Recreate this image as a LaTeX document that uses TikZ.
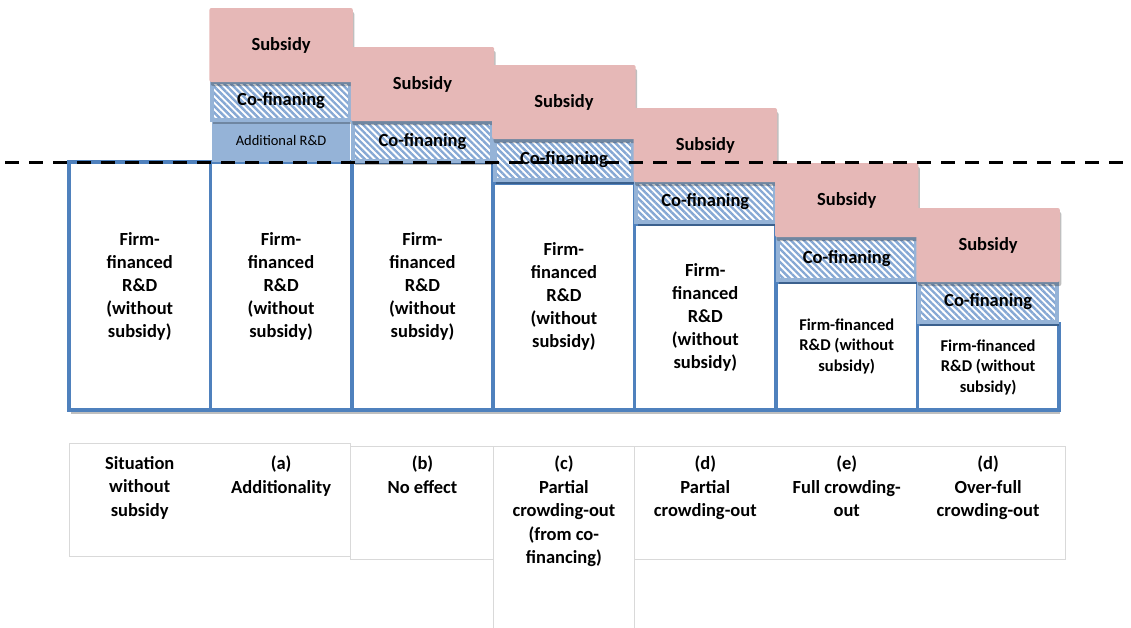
\documentclass[tikz,border=0pt]{standalone}
\usepackage{fontspec}
\setmainfont{Carlito}
\usetikzlibrary{shadows,patterns.meta}

\definecolor{subsidypink}{HTML}{E6B8B7}
\definecolor{lightblue}{HTML}{95B3D7}
\definecolor{hatchblue}{HTML}{86A8D4}
\definecolor{firmblue}{HTML}{4F81BD}
\definecolor{labelgray}{HTML}{D9D9D9}

\begin{document}
\begin{tikzpicture}[x=1pt,y=-1pt]

\def\colw{141.4}
\def\xleft{69}

\useasboundingbox (0,0) rectangle (1131,627);

\tikzstyle{shade}=[drop shadow={shadow xshift=1.5pt,shadow yshift=-4pt,opacity=0.25,fill=black}]
\tikzstyle{firm}=[rectangle,shade,draw=firmblue,line width=3.5pt,fill=white,minimum width=\colw,inner sep=0pt,align=center,font={\fontsize{18.5}{23}\selectfont\bfseries}]
\tikzstyle{smallfirm}=[firm,font={\fontsize{16.5}{20.5}\selectfont\bfseries}]
\tikzstyle{subsidy}=[rectangle,shade,rounded corners=2pt,fill=subsidypink,minimum width=\colw+2,minimum height=74,inner sep=0pt,font={\fontsize{18.5}{23}\selectfont\bfseries}]
\tikzstyle{cofin}=[rectangle,shade,preaction={fill=white},pattern={Lines[angle=-45,distance=4.6pt,line width=2.4pt]},pattern color=hatchblue,draw=lightblue,line width=4pt,minimum width=\colw-3,inner sep=0pt,font={\fontsize{18.5}{23}\selectfont\bfseries}]
\tikzstyle{additional}=[rectangle,fill=lightblue,minimum width=\colw-3,inner sep=0pt,font={\fontsize{14.5}{17}\selectfont}]
\tikzstyle{labelbox}=[rectangle,draw=labelgray,line width=1pt,inner sep=0pt]
\tikzstyle{labeltext}=[anchor=north,inner sep=0pt,align=center,font={\fontsize{18.5}{23.5}\selectfont\bfseries}]

%firm-financed R&D
\node[firm,minimum height=248] (firm0) at (\xleft+0.5*\colw,286) {Firm-\\financed\\R\&D\\(without\\subsidy)};
\node[firm,minimum height=248] (firm1) at (\xleft+1.5*\colw,286) {Firm-\\financed\\R\&D\\(without\\subsidy)};
\node[firm,minimum height=248] (firm2) at (\xleft+2.5*\colw,286) {Firm-\\financed\\R\&D\\(without\\subsidy)};
\node[firm,minimum height=227] (firm3) at (\xleft+3.5*\colw,296.5) {Firm-\\financed\\R\&D\\(without\\subsidy)};
\node[firm,minimum height=186] (firm4) at (\xleft+4.5*\colw,317) {Firm-\\financed\\R\&D\\(without\\subsidy)};
\node[smallfirm,minimum height=128] (firm5) at (\xleft+5.5*\colw,346) {Firm-financed\\R\&D (without\\subsidy)};
\node[smallfirm,minimum height=86] (firm6) at (\xleft+6.5*\colw,367) {Firm-financed\\R\&D (without\\subsidy)};

%additional
\node[additional,minimum height=42] (add1) at (\xleft+1.5*\colw,141) {Additional R\&D};

%co-financing
\node[cofin,minimum height=38] (cofin1) at (\xleft+1.5*\colw,101) {Co-finaning};
\node[cofin,minimum height=39] (cofin2) at (\xleft+2.5*\colw,141.5) {Co-finaning};
\node[cofin,minimum height=40] (cofin3) at (\xleft+3.5*\colw,160) {Co-finaning};
\node[cofin,minimum height=40] (cofin4) at (\xleft+4.5*\colw,202) {Co-finaning};
\node[cofin,minimum height=42] (cofin5) at (\xleft+5.5*\colw,259) {Co-finaning};
\node[cofin,minimum height=40] (cofin6) at (\xleft+6.5*\colw,302) {Co-finaning};

%subsidies
\node[subsidy] (sub1) at (\xleft+1.5*\colw,45) {Subsidy};
\node[subsidy] (sub2) at (\xleft+2.5*\colw,84) {Subsidy};
\node[subsidy] (sub3) at (\xleft+3.5*\colw,102) {Subsidy};
\node[subsidy] (sub4) at (\xleft+4.5*\colw,145) {Subsidy};
\node[subsidy] (sub5) at (\xleft+5.5*\colw,200) {Subsidy};
\node[subsidy] (sub6) at (\xleft+6.5*\colw,245) {Subsidy};

%labels
\node[labelbox,minimum width=281,minimum height=113] (lab0) at (209.5,499.5) {};
\node[labelbox,minimum width=143,minimum height=113] (labb) at (421.5,502.5) {};
\node[labelbox,minimum width=141,minimum height=190] (labc) at (563.5,541) {};
\node[labelbox,minimum width=431,minimum height=113] (labd) at (849.5,502.5) {};

\node[labeltext] (text0) at (\xleft+0.5*\colw,456) {Situation\\without\\subsidy};
\node[labeltext] (texta) at (\xleft+1.5*\colw,456) {(a)\\Additionality};
\node[labeltext] (textb) at (\xleft+2.5*\colw,456) {(b)\\No effect};
\node[labeltext] (textc) at (\xleft+3.5*\colw,456) {(c)\\Partial\\crowding-out\\(from co-\\financing)};
\node[labeltext] (textd) at (\xleft+4.5*\colw,456) {(d)\\Partial\\crowding-out};
\node[labeltext] (texte) at (\xleft+5.5*\colw,456) {(e)\\Full crowding-\\out};
\node[labeltext] (textf) at (\xleft+6.5*\colw,456) {(d)\\Over-full\\crowding-out};

%level without subsidy
\coordinate (levelstart) at (5,162);
\coordinate (levelend) at (1131,162);
\draw[line width=3pt,dash pattern=on 14pt off 10pt] (levelstart) -- (levelend);

\end{tikzpicture}
\end{document}
